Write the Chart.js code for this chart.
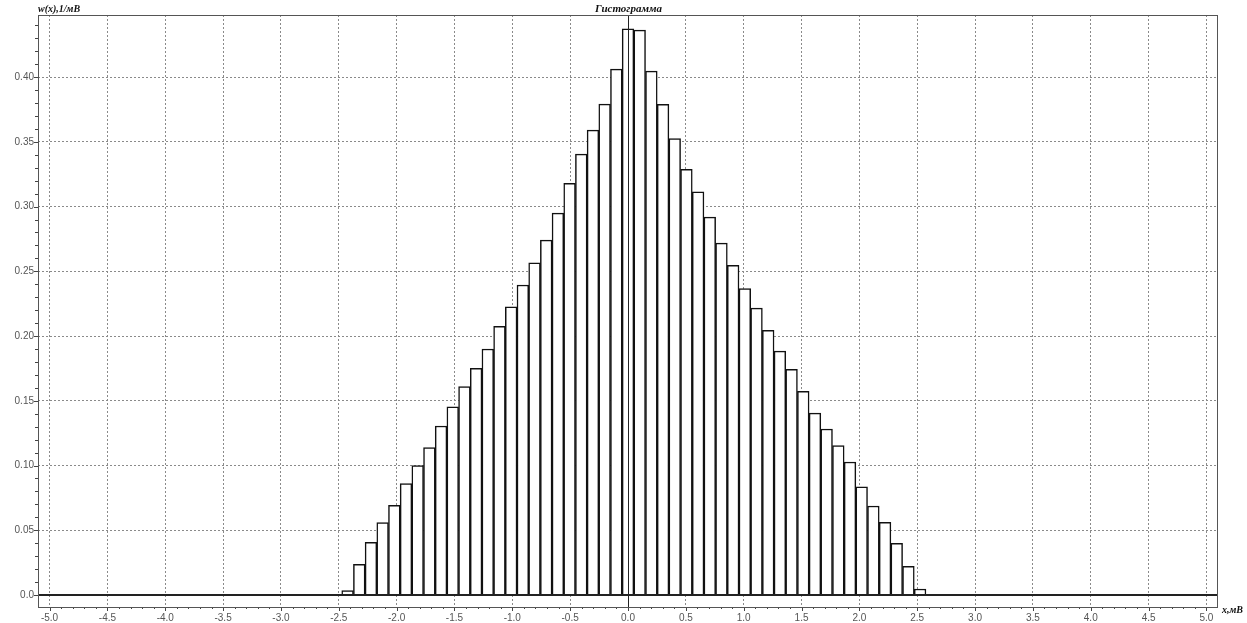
<!DOCTYPE html>
<html>
<head>
<meta charset="utf-8">
<title>Гистограмма</title>
<script src="https://cdn.jsdelivr.net/npm/chart.js@4.4.1/dist/chart.umd.min.js"></script>
<style>
    html, body { margin: 0; padding: 0; background: #fff; }
    #wrap { width: 1247px; height: 623px; }
</style>
</head>
<body>
<div id="wrap"><canvas id="histChart"></canvas></div>
<script>
// Histogram bins (centres, mV) and probability density w(x), 1/mV
const binCenters = [
    -2.424, -2.323, -2.222, -2.121, -2.020, -1.919, -1.818, -1.717, -1.616, -1.515,
    -1.414, -1.313, -1.212, -1.111, -1.010, -0.909, -0.808, -0.707, -0.606, -0.505,
    -0.404, -0.303, -0.202, -0.101, 0.000, 0.101, 0.202, 0.303, 0.404, 0.505,
    0.606, 0.707, 0.808, 0.909, 1.010, 1.111, 1.212, 1.313, 1.414, 1.515,
    1.616, 1.717, 1.818, 1.919, 2.020, 2.121, 2.222, 2.323, 2.424, 2.525
];
const density = [
    0.0033, 0.0237, 0.0407, 0.0559, 0.0693, 0.0860, 0.0999, 0.1138, 0.1305, 0.1454,
    0.1609, 0.1750, 0.1900, 0.2075, 0.2226, 0.2394, 0.2566, 0.2741, 0.2950, 0.3179,
    0.3405, 0.3591, 0.3792, 0.4062, 0.4373, 0.4363, 0.4046, 0.3789, 0.3526, 0.3287,
    0.3115, 0.2919, 0.2718, 0.2546, 0.2366, 0.2216, 0.2044, 0.1884, 0.1743, 0.1573,
    0.1405, 0.1282, 0.1153, 0.1027, 0.0836, 0.0687, 0.0561, 0.0399, 0.0221, 0.0046
];

// Axis tick labels
const xTicks = [-5.0, -4.5, -4.0, -3.5, -3.0, -2.5, -2.0, -1.5, -1.0, -0.5, 0.0,
                0.5, 1.0, 1.5, 2.0, 2.5, 3.0, 3.5, 4.0, 4.5, 5.0];
const yTicks = [0.0, 0.05, 0.10, 0.15, 0.20, 0.25, 0.30, 0.35, 0.40];

const chartTitle = 'Гистограмма';
const yAxisTitle = 'w(x),1/мВ';
const xAxisTitle = 'x,мВ';

const labelFont = { family: '"Liberation Sans", Arial, sans-serif', size: 10 };
const captionFont = 'italic bold 10px "Liberation Serif", "Times New Roman", serif';

// Frame, zero lines, minor ticks and captions
const framePlugin = {
    id: 'frame',
    afterDraw(chart) {
        const { ctx, chartArea: a, scales: { x, y } } = chart;
        ctx.save();

        // tick marks outside the frame
        ctx.strokeStyle = '#444';
        ctx.lineWidth = 1;
        ctx.beginPath();
        for (let v = 0; v <= y.max + 1e-9; v += 0.01) {
            const py = Math.round(y.getPixelForValue(v)) + 0.5;
            const major = Math.abs(v / 0.05 - Math.round(v / 0.05)) < 1e-6;
            ctx.moveTo(a.left - (major ? 4 : 3), py);
            ctx.lineTo(a.left, py);
        }
        for (let v = -5.0; v <= 5.0 + 1e-9; v += 0.1) {
            const px = Math.round(x.getPixelForValue(v)) + 0.5;
            const major = Math.abs(v / 0.5 - Math.round(v / 0.5)) < 1e-6;
            ctx.moveTo(px, a.bottom);
            ctx.lineTo(px, a.bottom + (major ? 4 : 2));
        }
        ctx.stroke();

        // zero lines
        const y0 = Math.round(y.getPixelForValue(0));
        const x0 = Math.round(x.getPixelForValue(0)) + 0.5;
        ctx.strokeStyle = '#222';
        ctx.lineWidth = 2;
        ctx.beginPath();
        ctx.moveTo(a.left, y0);
        ctx.lineTo(a.right, y0);
        ctx.stroke();
        ctx.lineWidth = 1;
        ctx.beginPath();
        ctx.moveTo(x0, a.top);
        ctx.lineTo(x0, a.bottom);
        ctx.stroke();

        // frame
        ctx.strokeStyle = '#555';
        ctx.lineWidth = 1;
        ctx.strokeRect(a.left + 0.5, a.top + 0.5, a.right - a.left - 1, a.bottom - a.top);

        // captions
        ctx.fillStyle = '#111';
        ctx.font = 'italic bold 11px "Liberation Serif", "Times New Roman", serif';
        ctx.textAlign = 'center';
        ctx.textBaseline = 'alphabetic';
        ctx.fillText(chartTitle, x0, a.top - 3);
        ctx.font = captionFont;
        ctx.textAlign = 'left';
        ctx.fillText(yAxisTitle, a.left, a.top - 3);
        ctx.fillText(xAxisTitle, a.right + 4, a.bottom + 6);
        ctx.restore();
    }
};

const ctx = document.getElementById('histChart').getContext('2d');
new Chart(ctx, {
    type: 'bar',
    data: {
        datasets: [{
            label: 'w(x)',
            data: binCenters.map((c, i) => ({ x: c, y: density[i] })),
            backgroundColor: '#ffffff',
            borderColor: '#111111',
            borderWidth: 1.5,
            barPercentage: 1.0,
            categoryPercentage: 1.0
        }]
    },
    options: {
        responsive: true,
        maintainAspectRatio: false,
        animation: false,
        layout: { padding: { top: 15, right: 29, left: 0, bottom: 0 } },
        plugins: {
            legend: { display: false },
            tooltip: { enabled: false }
        },
        scales: {
            x: {
                type: 'linear',
                offset: false,
                min: -5.1,
                max: 5.1,
                afterBuildTicks: scale => { scale.ticks = xTicks.map(v => ({ value: v })); },
                afterFit: scale => { scale.height = 16; },
                ticks: {
                    autoSkip: false,
                    maxRotation: 0,
                    padding: 5,
                    color: '#555',
                    font: labelFont,
                    callback: v => v.toFixed(1)
                },
                grid: { offset: false, color: '#8a8a8a', lineWidth: 1, drawTicks: false },
                border: { display: false, dash: [2, 2] }
            },
            y: {
                min: -0.0093,
                max: 0.448,
                afterBuildTicks: scale => { scale.ticks = yTicks.map(v => ({ value: v })); },
                afterFit: scale => { scale.width = 38; },
                ticks: {
                    autoSkip: false,
                    padding: 4,
                    color: '#555',
                    font: labelFont,
                    callback: v => (v === 0 ? '0.0' : v.toFixed(2))
                },
                grid: { color: '#8a8a8a', lineWidth: 1, drawTicks: false },
                border: { display: false, dash: [2, 2] }
            }
        }
    },
    plugins: [framePlugin]
});
</script>
</body>
</html>
